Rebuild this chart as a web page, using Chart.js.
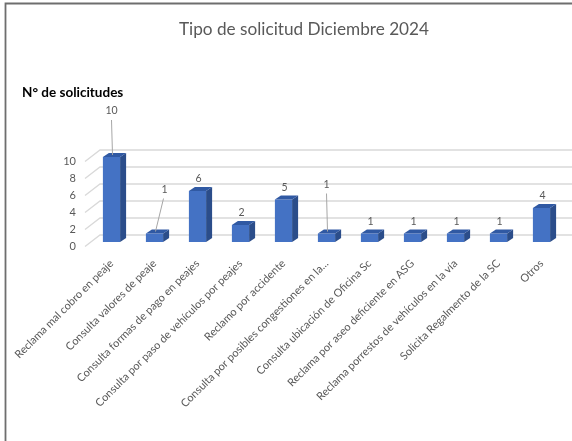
<!DOCTYPE html>
<html><head><meta charset="utf-8">
<script src="https://cdn.jsdelivr.net/npm/chart.js@4.4.1/dist/chart.umd.min.js"></script>
<style>html,body{margin:0;padding:0;background:#fff;}#wrap{width:572px;height:441px;position:relative;}</style>
</head><body><div id="wrap"><canvas id="c"></canvas></div>
<script>
const categories = [
  'Reclama mal cobro en peaje',
  'Consulta valores de peaje',
  'Consulta formas de pago en peajes',
  'Consulta por paso de vehículos por peajes',
  'Reclamo por accidente',
  'Consulta por posibles congestiones en la...',
  'Consulta ubicación de Oficina Sc',
  'Reclama por aseo deficiente en ASG',
  'Reclama porrestos de vehículos en la vía',
  'Solicita Regalmento de la SC',
  'Otros'
];
const values = [10, 1, 6, 2, 5, 1, 1, 1, 1, 1, 4];
const yTicks = [0, 2, 4, 6, 8, 10];
const chartTitle = 'Tipo de solicitud Diciembre 2024';
const axisTitle = 'N° de solicitudes';

// label callouts (moved labels with leader lines), offsets from bar top
const calloutOffsets = {0: {dx: 0, dy: -46}, 1: {dx: 10, dy: -44}, 5: {dx: 0, dy: -49}};

const FONT = 'Lato, "Open Sans", sans-serif';
const DEPTH = {dx: 6, dy: -4};

const deco = {
  id: 'deco',
  beforeDatasetsDraw(chart) {
    const {ctx, chartArea: a, scales: {y}} = chart;
    ctx.save();
    // frame
    ctx.strokeStyle = '#6e6e6e';
    ctx.lineWidth = 1.8;
    ctx.beginPath();
    ctx.moveTo(5.5, chart.height);
    ctx.lineTo(5.5, 3.5);
    ctx.lineTo(chart.width, 3.5);
    ctx.stroke();
    // 3D gridlines
    ctx.strokeStyle = '#d9d9d9';
    ctx.lineWidth = 1.3;
    yTicks.forEach(v => {
      const py = y.getPixelForValue(v);
      ctx.beginPath();
      ctx.moveTo(a.left - 5, py + 4.5);
      ctx.lineTo(a.left + 10, py - 7);
      ctx.lineTo(chart.width, py - 7);
      ctx.stroke();
    });
    // titles
    ctx.fillStyle = '#595959';
    ctx.font = '17.2px ' + FONT;
    ctx.textAlign = 'center';
    ctx.textBaseline = 'middle';
    ctx.fillText(chartTitle, chart.width / 2 + 18, 29);
    ctx.fillStyle = '#000000';
    ctx.font = 'bold 13.5px ' + FONT;
    ctx.textAlign = 'left';
    ctx.fillText(axisTitle, 22, 93);
    ctx.restore();
  },
  afterDatasetsDraw(chart) {
    const {ctx} = chart;
    const meta = chart.getDatasetMeta(0);
    ctx.save();
    meta.data.forEach((bar, i) => {
      const p = bar.getProps(['x', 'y', 'base', 'width'], true);
      const l = p.x - p.width / 2, r = p.x + p.width / 2, t = p.y, b = p.base;
      ctx.fillStyle = '#2b4d8a';
      ctx.beginPath();
      ctx.moveTo(r, t); ctx.lineTo(r + DEPTH.dx, t + DEPTH.dy);
      ctx.lineTo(r + DEPTH.dx, b + DEPTH.dy); ctx.lineTo(r, b); ctx.closePath(); ctx.fill();
      ctx.fillStyle = '#3059a3';
      ctx.beginPath();
      ctx.moveTo(l, t); ctx.lineTo(l + DEPTH.dx, t + DEPTH.dy);
      ctx.lineTo(r + DEPTH.dx, t + DEPTH.dy); ctx.lineTo(r, t); ctx.closePath(); ctx.fill();
    });
    // data labels
    ctx.font = '10.5px ' + FONT;
    ctx.textAlign = 'center';
    ctx.textBaseline = 'middle';
    meta.data.forEach((bar, i) => {
      const p = bar.getProps(['x', 'y'], true);
      const c = calloutOffsets[i];
      let lx = p.x + 1, ly = p.y - 12;
      if (c) {
        lx = p.x + c.dx; ly = p.y + c.dy;
        ctx.strokeStyle = '#a6a6a6';
        ctx.lineWidth = 1;
        ctx.beginPath();
        ctx.moveTo(lx - (c.dx ? 1 : 0), ly + 9);
        ctx.lineTo(p.x + 1, p.y - 2);
        ctx.stroke();
      }
      ctx.fillStyle = '#595959';
      ctx.fillText(String(values[i]), lx, ly);
    });
    ctx.restore();
  }
};

new Chart(document.getElementById('c'), {
  type: 'bar',
  data: {
    labels: categories,
    datasets: [{
      data: values,
      backgroundColor: '#4472c4',
      borderWidth: 0,
      barPercentage: 0.4,
      categoryPercentage: 1
    }]
  },
  options: {
    responsive: true,
    maintainAspectRatio: false,
    animation: false,
    events: [],
    layout: {padding: {top: 157, left: 0, right: 9, bottom: 0}},
    plugins: {legend: {display: false}, title: {display: false}, tooltip: {enabled: false}},
    scales: {
      x: {
        grid: {display: false},
        border: {display: false},
        ticks: {
          color: '#595959',
          font: {family: FONT, size: 11},
          maxRotation: 45, minRotation: 45,
          autoSkip: false,
          padding: 7
        },
        afterFit(s) { s.height = 199; }
      },
      y: {
        min: 0, max: 10,
        grid: {display: false},
        border: {display: false},
        afterBuildTicks(s) { s.ticks = yTicks.map(v => ({value: v})); },
        ticks: {
          color: '#595959',
          font: {family: FONT, size: 11},
          padding: 6,
          labelOffset: 4.5
        },
        afterFit(s) { s.width = 90; }
      }
    }
  },
  plugins: [deco]
});
</script>
</body></html>
